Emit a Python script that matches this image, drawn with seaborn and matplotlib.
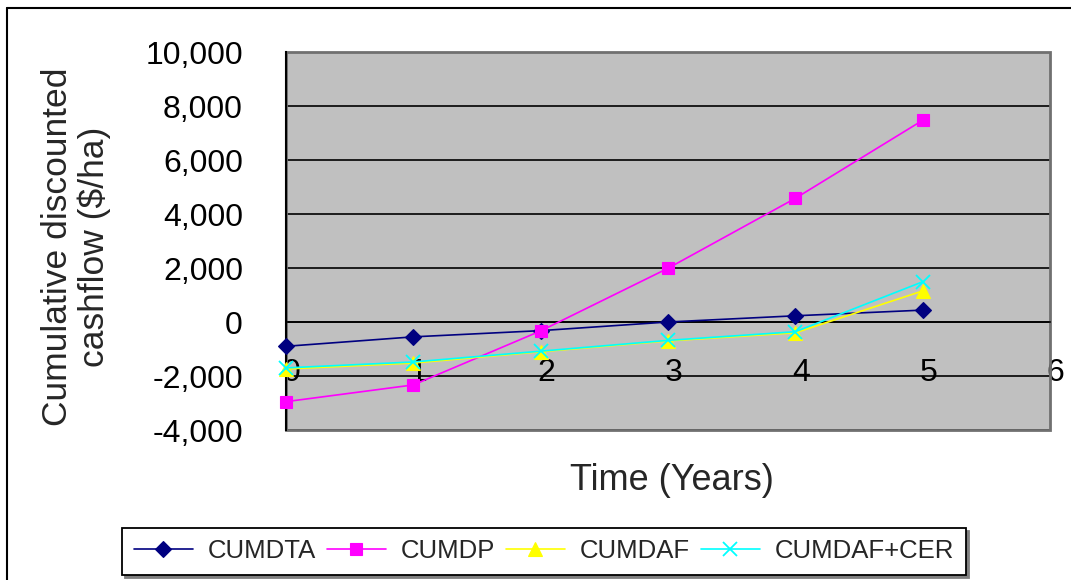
import matplotlib
matplotlib.use("Agg")
import matplotlib.pyplot as plt
import matplotlib.font_manager as fm
import matplotlib.transforms as mtrans
from matplotlib.lines import Line2D
from matplotlib.patches import Rectangle
from matplotlib.ticker import FuncFormatter, MultipleLocator
import seaborn as sns

# ---- data ----
years = [0, 1, 2, 3, 4, 5]
cumdta = [-900, -550, -320, 0, 230, 440]
cumdp = [-2950, -2330, -330, 1990, 4580, 7470]
cumdaf = [-1740, -1520, -1100, -700, -400, 1150]
cumdaf_cer = [-1700, -1480, -1080, -680, -360, 1490]

series_names = ["CUMDTA", "CUMDP", "CUMDAF", "CUMDAF+CER"]
series_values = [cumdta, cumdp, cumdaf, cumdaf_cer]
series_colors = ["#000080", "#FF00FF", "#FFFF00", "#00FFFF"]
series_markers = ["D", "s", "^", "x"]
series_msize = [8, 9, 10, 10]

x_ticks = [0, 1, 2, 3, 4, 5, 6]
y_min, y_max, y_step = -4000, 10000, 2000

# ---- style ----
sns.set_style("white")
avail = {f.name for f in fm.fontManager.ttflist}
main_font = "Liberation Sans" if "Liberation Sans" in avail else "DejaVu Sans"
narrow_font = "Liberation Sans Narrow" if "Liberation Sans Narrow" in avail else main_font
plt.rcParams["font.family"] = [main_font, "DejaVu Sans"]

W, H = 1071, 580
fig = plt.figure(figsize=(W / 100, H / 100), dpi=100)
fig.patch.set_facecolor("white")

ax = fig.add_axes([286 / W, 1 - 430 / H, (1050 - 286) / W, (430 - 52) / H])
ax.set_facecolor("#C0C0C0")

for name, vals, col, mk, ms in zip(series_names, series_values, series_colors,
                                    series_markers, series_msize):
    sns.lineplot(x=years, y=vals, ax=ax, color=col, marker=mk, markersize=ms,
                 markeredgecolor=col, markeredgewidth=1.3 if mk == "x" else 0.8,
                 linewidth=1.2, label=name, zorder=3, clip_on=False)

ax.set_xlim(x_ticks[0], x_ticks[-1])
ax.set_ylim(y_min, y_max)
ax.set_xticks(x_ticks)
ax.yaxis.set_major_locator(MultipleLocator(y_step))
ax.yaxis.set_major_formatter(FuncFormatter(lambda v, p: f"{v:,.0f}"))

ax.yaxis.grid(True, color="black", linewidth=1.2, zorder=1)
ax.xaxis.grid(False)
ax.set_axisbelow(True)

for s in ["top", "right"]:
    ax.spines[s].set_visible(False)
ax.spines["left"].set_color("black")
ax.spines["left"].set_linewidth(1.5)
ax.spines["bottom"].set_position(("data", 0))
ax.spines["bottom"].set_color("black")
ax.spines["bottom"].set_linewidth(1.2)

ax.add_patch(Rectangle((0, 0), 1, 1, transform=ax.transAxes, fill=False,
                       edgecolor="#707070", linewidth=2, zorder=2.4, clip_on=False))

ax.tick_params(axis="x", direction="in", length=8, width=1, color="black",
               pad=26, labelsize=23, labelcolor="black")
ax.tick_params(axis="y", direction="in", length=8, width=1, color="black",
               pad=31, labelsize=23, labelcolor="black")
ax.set_xlabel("")
ax.set_ylabel("")

offset = mtrans.ScaledTranslation(4 / 72, 0, fig.dpi_scale_trans)
for lbl in ax.get_xticklabels():
    lbl.set_transform(lbl.get_transform() + offset)

fig.text(76 / W, 1 - 247 / H, "Cumulative discounted\ncashflow ($/ha)",
         rotation=90, ha="center", va="center", multialignment="center",
         linespacing=1.15, fontsize=25.5)
fig.text(672 / W, 1 - 480 / H, "Time (Years)", ha="center", va="center",
         fontsize=26)

handles, labels = ax.get_legend_handles_labels()
if ax.get_legend() is not None:
    ax.get_legend().remove()
leg = fig.legend(handles, labels, loc="lower left",
                 bbox_to_anchor=(122 / W, 1 - 575 / H, (966 - 122) / W, 49 / H),
                 mode="expand", ncol=4, frameon=True, fancybox=False,
                 edgecolor="black", facecolor="white", framealpha=1,
                 shadow={"color": "#808080", "alpha": 1},
                 prop={"family": narrow_font, "size": 18.5},
                 handlelength=2.3, handletextpad=0.6, borderaxespad=0,
                 borderpad=0.45, columnspacing=1.1)
leg.get_frame().set_linewidth(1.3)

# outer chart border (left and top visible)
fig.add_artist(Line2D([7 / W, 7 / W], [0, 1 - 8 / H], transform=fig.transFigure,
                      color="black", linewidth=1.5))
fig.add_artist(Line2D([7 / W, 1], [1 - 8 / H, 1 - 8 / H], transform=fig.transFigure,
                      color="black", linewidth=1.5))

fig.savefig("out.png", dpi=100, facecolor="white")
